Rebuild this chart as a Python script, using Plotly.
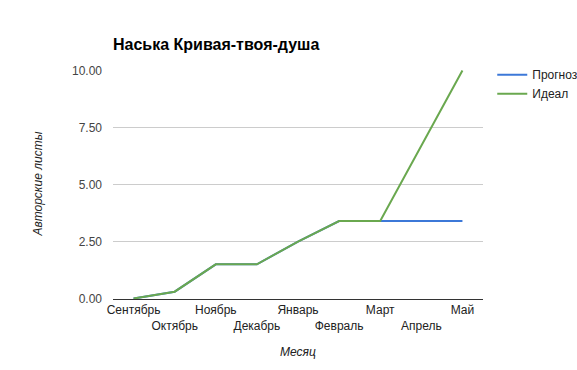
import plotly.graph_objects as go

months = ["Сентябрь", "Октябрь", "Ноябрь", "Декабрь", "Январь", "Февраль", "Март", "Апрель", "Май"]
forecast = [0, 0.3, 1.5, 1.5, 2.5, 3.4, 3.4, 3.4, 3.4]
ideal = [0, 0.3, 1.5, 1.5, 2.5, 3.4, 3.4, 6.7, 10]
yticks = [0, 2.5, 5, 7.5, 10]
ticktext = [m if i % 2 == 0 else "<br>" + m for i, m in enumerate(months)]

fig = go.Figure()
fig.add_trace(go.Scatter(x=months, y=forecast, mode="lines", name="Прогноз",
                         line=dict(color="#3c78d8", width=2)))
fig.add_trace(go.Scatter(x=months, y=ideal, mode="lines", name="Идеал",
                         line=dict(color="#6aa84f", width=2)))

font = "Arial, Liberation Sans, sans-serif"
fig.update_layout(
    width=577, height=370,
    margin=dict(l=113, r=94, t=70, b=71, autoexpand=False),
    paper_bgcolor="white", plot_bgcolor="white",
    font=dict(family=font, size=12, color="#444"),
    title=dict(text="<b>Наська Кривая-твоя-душа</b>", x=113/577, xanchor="left",
               y=1 - 44/370, yanchor="middle", xref="container",
               font=dict(family=font, size=16, color="#000")),
    legend=dict(x=1.025, y=1.043, xanchor="left", yanchor="top",
                font=dict(family=font, size=12, color="#222"),
                tracegroupgap=0, itemwidth=30, bgcolor="rgba(0,0,0,0)"),
    xaxis=dict(type="category", range=[-0.5, 8.5], tickmode="array",
               tickvals=months, ticktext=ticktext, showgrid=False, tickangle=0,
               showline=True, linecolor="#333", linewidth=1, ticks="",
               automargin=False,
               tickfont=dict(size=12, color="#222"), fixedrange=True),
    yaxis=dict(range=[-0.02, 10.02], tickvals=yticks, tickformat=".2f",
               showgrid=True, gridcolor="#ccc", gridwidth=1, zeroline=False,
               showline=False, ticks="", ticklabelstandoff=10, automargin=False,
               tickfont=dict(size=12, color="#444"), fixedrange=True),
    showlegend=True,
    annotations=[
        dict(text="<i>Месяц</i>", x=0.5, xref="paper", y=(299 - 352) / 229,
             yref="paper", xanchor="center", yanchor="middle", showarrow=False,
             font=dict(size=12, color="#222")),
        dict(text="<i>Авторские листы</i>", x=(37 - 113) / 370, xref="paper",
             y=0.5, yref="paper", xanchor="center", yanchor="middle",
             textangle=-90, showarrow=False, font=dict(size=12, color="#222")),
    ],
)

fig.write_html("out.html")
